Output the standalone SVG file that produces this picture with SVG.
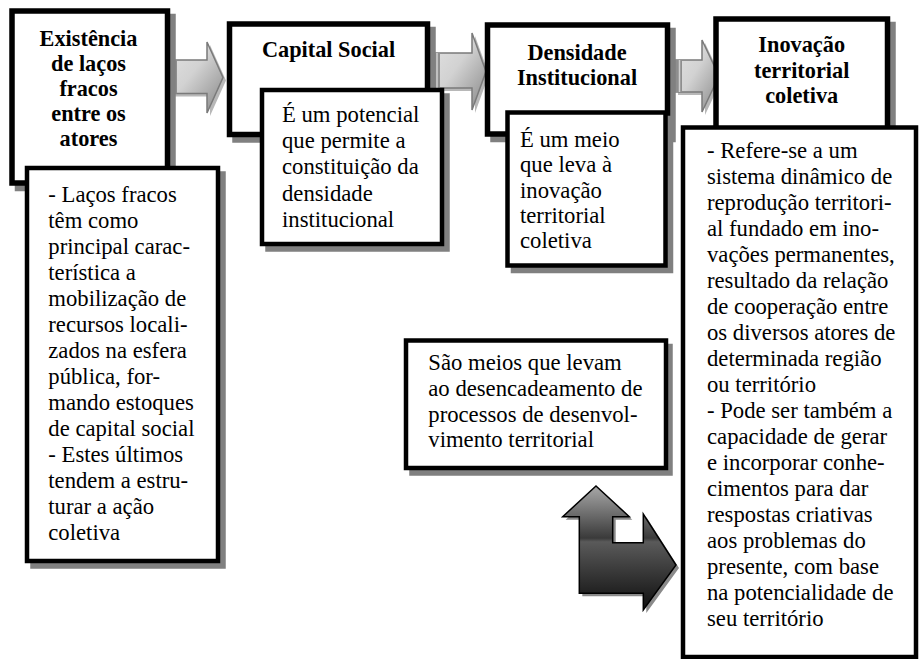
<svg xmlns="http://www.w3.org/2000/svg" width="920" height="659" viewBox="0 0 920 659">
<style>
.tb{fill:#fff;stroke:#000;stroke-width:5.5}
.db{fill:#fff;stroke:#000;stroke-width:4.5}
.sh{fill:#808080}
.t{font-family:'Liberation Serif','Times New Roman',serif;font-size:22.3px;font-weight:bold;text-anchor:middle;fill:#000}
.d{font-family:'Liberation Serif','Times New Roman',serif;font-size:22.7px;fill:#000}
.ar{fill:url(#ga);stroke:#7a7a7a;stroke-width:1.5}
.ash{fill:#b8b8b8}
.band{fill:#8e8e8e}
</style>
<defs>
<linearGradient id="ga" x1="0" y1="0" x2="1" y2="1">
<stop offset="0" stop-color="#e4e4e4"/>
<stop offset="0.45" stop-color="#d2d2d2"/>
<stop offset="1" stop-color="#868686"/>
</linearGradient>
<linearGradient id="gb" gradientUnits="userSpaceOnUse" x1="0" y1="486" x2="0" y2="610">
<stop offset="0" stop-color="#a8a8a8"/>
<stop offset="0.42" stop-color="#3a3a3a"/>
<stop offset="0.45" stop-color="#5a5a5a"/>
<stop offset="1" stop-color="#0e0e0e"/>
</linearGradient>
</defs>

<g id="connectors">
<g id="arrow1">
<polygon class="ash" points="169,63 210,63 210,45 226,80.5 210,116 210,96.5 169,96.5"/>
<polygon class="ar" points="166,60 207,60 207,42 223,77.5 207,113 207,93.5 166,93.5"/>
<rect class="band" x="166" y="60" width="11" height="33.5"/>
<line x1="173" y1="60" x2="173" y2="93.5" stroke="#d0d0d0" stroke-width="1.5"/>
</g>
<g id="arrow2">
<polygon class="ash" points="435,56 475,56 475,36 489,74.5 475,113 475,91 435,91"/>
<polygon class="ar" points="432,53 472,53 472,33 486,71.5 472,110 472,88 432,88"/>
<rect class="band" x="432" y="53" width="8" height="35"/>
<line x1="437" y1="53" x2="437" y2="88" stroke="#d0d0d0" stroke-width="1.5"/>
</g>
<g id="arrow3">
<polygon class="ash" points="678,63 705,63 705,43 722,79 705,115 705,95 678,95"/>
<polygon class="ar" points="675,60 702,60 702,40 719,76 702,112 702,92 675,92"/>
<rect class="band" x="675" y="60" width="7" height="32"/>
<line x1="679.5" y1="60" x2="679.5" y2="92" stroke="#d0d0d0" stroke-width="1.5"/>
</g>
<g id="bent-arrow">
<polygon fill="#8a8a8a" points="599,489 632.3,519.7 615.7,519.7 615.7,545.7 646.3,545.7 646.3,517 679,568 646.3,613 646.3,596.3 582.3,596.3 582.3,519.7 565.7,519.7"/>
<polygon fill="url(#gb)" stroke="#000" stroke-width="1.5" stroke-linejoin="miter" points="596,486 629.3,516.7 612.7,516.7 612.7,542.7 643.3,542.7 643.3,514 676,565 643.3,610 643.3,593.3 579.3,593.3 579.3,516.7 562.7,516.7"/>
</g>
</g>

<g id="node-existencia">
<rect class="sh" x="14.75" y="13.75" width="161" height="177.5"/>
<rect class="tb" x="12" y="11" width="155.5" height="172"/>
<text class="t" x="88.5" y="45.5">Existência</text>
<text class="t" x="88.5" y="70.7">de laços</text>
<text class="t" x="88.5" y="95.9">fracos</text>
<text class="t" x="88.5" y="121.1">entre os</text>
<text class="t" x="88.5" y="146.3">atores</text>
</g>

<g id="node-existencia-desc">
<rect class="sh" x="30.25" y="171.25" width="195.5" height="397.5"/>
<rect class="db" x="27" y="168" width="191" height="393"/>
<text class="d" x="48.3" y="201.7">- Laços fracos</text>
<text class="d" x="48.3" y="227.7">têm como</text>
<text class="d" x="48.3" y="253.7">principal carac-</text>
<text class="d" x="48.3" y="279.7">terística a</text>
<text class="d" x="48.3" y="305.7">mobilização de</text>
<text class="d" x="48.3" y="331.7">recursos locali-</text>
<text class="d" x="48.3" y="357.7">zados na esfera</text>
<text class="d" x="48.3" y="383.7">pública, for-</text>
<text class="d" x="48.3" y="409.7">mando estoques</text>
<text class="d" x="48.3" y="435.7">de capital social</text>
<text class="d" x="48.3" y="461.7">- Estes últimos</text>
<text class="d" x="48.3" y="487.7">tendem a estru-</text>
<text class="d" x="48.3" y="513.7">turar a ação</text>
<text class="d" x="48.3" y="539.7">coletiva</text>
</g>

<g id="node-capital">
<rect class="sh" x="232.25" y="26.75" width="203.5" height="116"/>
<rect class="tb" x="229.5" y="24" width="198" height="110.5"/>
<text class="t" x="328.5" y="56.7">Capital Social</text>
</g>

<g id="node-capital-desc">
<rect class="sh" x="265.25" y="93.25" width="184.5" height="158.5"/>
<rect class="db" x="262" y="90" width="180" height="154"/>
<text class="d" x="282" y="122">É um potencial</text>
<text class="d" x="282" y="148.2">que permite a</text>
<text class="d" x="282" y="174.4">constituição da</text>
<text class="d" x="282" y="200.6">densidade</text>
<text class="d" x="282" y="226.8">institucional</text>
</g>

<g id="node-densidade">
<rect class="sh" x="490.25" y="27.75" width="185.5" height="114.5"/>
<rect class="tb" x="487.5" y="25" width="180" height="109"/>
<text class="t" x="577" y="60">Densidade</text>
<text class="t" x="577" y="84.5">Institucional</text>
</g>

<g id="node-densidade-desc">
<rect class="sh" x="510.75" y="115.75" width="162.5" height="157.5"/>
<rect class="db" x="507.5" y="112.5" width="158" height="153"/>
<text class="d" x="520" y="147">É um meio</text>
<text class="d" x="520" y="172.3">que leva à</text>
<text class="d" x="520" y="197.6">inovação</text>
<text class="d" x="520" y="222.9">territorial</text>
<text class="d" x="520" y="248.2">coletiva</text>
</g>

<g id="node-inovacao">
<rect class="sh" x="718.75" y="21.75" width="177" height="121.5"/>
<rect class="tb" x="716" y="19" width="171.5" height="116"/>
<text class="t" x="801.7" y="52">Inovação</text>
<text class="t" x="801.7" y="77.5">territorial</text>
<text class="t" x="801.7" y="103">coletiva</text>
</g>

<g id="node-inovacao-desc">
<rect class="db" x="683" y="127.5" width="233" height="529.5"/>
<text class="d" x="707" y="158">- Refere-se a um</text>
<text class="d" x="707" y="184">sistema dinâmico de</text>
<text class="d" x="707" y="210">reprodução territori-</text>
<text class="d" x="707" y="236">al fundado em ino-</text>
<text class="d" x="707" y="262">vações permanentes,</text>
<text class="d" x="707" y="288">resultado da relação</text>
<text class="d" x="707" y="314">de cooperação entre</text>
<text class="d" x="707" y="340">os diversos atores de</text>
<text class="d" x="707" y="366">determinada região</text>
<text class="d" x="707" y="392">ou território</text>
<text class="d" x="707" y="418">- Pode ser também a</text>
<text class="d" x="707" y="444">capacidade de gerar</text>
<text class="d" x="707" y="470">e incorporar conhe-</text>
<text class="d" x="707" y="496">cimentos para dar</text>
<text class="d" x="707" y="522">respostas criativas</text>
<text class="d" x="707" y="548">aos problemas do</text>
<text class="d" x="707" y="574">presente, com base</text>
<text class="d" x="707" y="600">na potencialidade de</text>
<text class="d" x="707" y="626">seu território</text>
</g>

<g id="node-meios">
<rect class="sh" x="409.25" y="343.75" width="263.5" height="132"/>
<rect class="db" x="406" y="340.5" width="260" height="127.5"/>
<text class="d" x="428.3" y="370">São meios que levam</text>
<text class="d" x="428.3" y="396.3">ao desencadeamento de</text>
<text class="d" x="428.3" y="421.7">processos de desenvol-</text>
<text class="d" x="428.3" y="447">vimento territorial</text>
</g>
</svg>
